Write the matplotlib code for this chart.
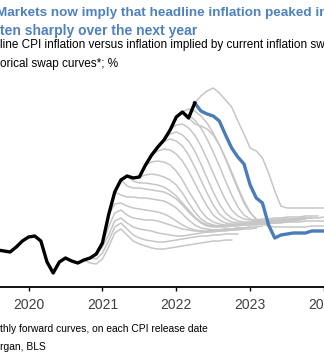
import numpy as np
import matplotlib
matplotlib.use("Agg")
import matplotlib.pyplot as plt

plt.rcParams['font.family'] = ['Liberation Sans', 'DejaVu Sans']

# Headline CPI, % y/y, monthly from Aug 2019 to Apr 2022
cpi = [1.25, 1.2, 1.15, 1.4, 1.7, 1.9, 1.95, 1.7, 0.65, 0.1, 0.65, 0.85,
       0.7, 0.6, 0.75, 0.85, 1.05, 1.6, 3.0, 4.15, 4.75, 4.95, 4.85, 4.9,
       5.5, 6.0, 6.4, 6.75, 7.25, 7.9, 8.15, 7.85, 8.6]
first_month = 2019 + 7 / 12

# historical swap curves: month index (from Aug 2019) of each release
swap_start = [14, 15, 16, 17, 18, 19, 20, 21, 23, 24, 25, 26, 27, 28, 29,
              30, 31, 32]
swap_curves = [
    [0.75, 0.6, 0.55, 0.8, 1.4, 2.1, 2.3, 2.0, 1.7, 1.55, 1.45, 1.35, 1.3,
     1.3, 1.35, 1.4, 1.45, 1.5, 1.55, 1.6, 1.65, 1.7, 1.7, 1.75, 1.75],
    [0.85, 0.8, 1.1, 1.7, 2.4, 2.6, 2.3, 2.0, 1.85, 1.75, 1.7, 1.65, 1.65,
     1.7, 1.75, 1.8, 1.85, 1.9, 1.95, 1.95, 2.0, 2.0, 2.05, 2.05, 2.05],
    [1.05, 1.4, 2.0, 2.7, 2.85, 2.6, 2.4, 2.3, 2.25, 2.2, 2.1, 2.05, 2.0,
     1.95, 1.95, 2.0, 2.05, 2.1, 2.15, 2.2, 2.2, 2.25, 2.25, 2.3, 2.3],
    [1.6, 2.4, 3.1, 3.25, 3.0, 2.85, 2.8, 2.75, 2.75, 2.7, 2.6, 2.5, 2.4,
     2.3, 2.25, 2.2, 2.2, 2.2, 2.25, 2.25, 2.3, 2.3, 2.35, 2.35, 2.4],
    [3.0, 3.55, 3.6, 3.45, 3.35, 3.3, 3.25, 3.2, 3.15, 3.05, 2.9, 2.7, 2.5,
     2.35, 2.25, 2.2, 2.15, 2.15, 2.2, 2.2, 2.25, 2.25, 2.3, 2.3, 2.35],
    [4.15, 4.0, 3.9, 3.9, 3.85, 3.85, 3.8, 3.75, 3.7, 3.55, 3.35, 3.05, 2.75,
     2.5, 2.35, 2.3, 2.25, 2.25, 2.3, 2.3, 2.35, 2.35, 2.4, 2.4, 2.45],
    [4.75, 4.45, 4.35, 4.35, 4.3, 4.25, 4.2, 4.15, 4.0, 3.8, 3.5, 3.15, 2.85,
     2.6, 2.45, 2.4, 2.4, 2.4, 2.45, 2.45, 2.5, 2.5, 2.5, 2.55, 2.55],
    [4.95, 4.7, 4.6, 4.6, 4.55, 4.5, 4.4, 4.2, 3.95, 3.6, 3.25, 2.9, 2.65,
     2.5, 2.45, 2.45, 2.45, 2.5, 2.5, 2.5, 2.55, 2.55, 2.6, 2.6, 2.6],
    [4.9, 5.0, 5.05, 5.0, 4.9, 4.75, 4.5, 4.1, 3.6, 3.15, 2.8, 2.6, 2.5,
     2.45, 2.45, 2.5, 2.5, 2.5, 2.55, 2.55, 2.6, 2.6, 2.6, 2.65, 2.65],
    [5.5, 5.65, 5.7, 5.65, 5.5, 5.2, 4.75, 4.2, 3.7, 3.2, 2.85, 2.65, 2.55,
     2.5, 2.5, 2.5, 2.55, 2.55, 2.6, 2.6, 2.6, 2.65, 2.65, 2.65, 2.7],
    [6.0, 6.2, 6.3, 6.25, 6.05, 5.7, 5.2, 4.6, 4.0, 3.45, 3.0, 2.75, 2.6,
     2.55, 2.55, 2.55, 2.6, 2.6, 2.6, 2.65, 2.65, 2.7, 2.7, 2.7, 2.75],
    [6.4, 6.7, 6.8, 6.7, 6.45, 6.0, 5.4, 4.75, 4.1, 3.5, 3.05, 2.8, 2.65,
     2.6, 2.6, 2.6, 2.65, 2.65, 2.7, 2.7, 2.7, 2.75, 2.75, 2.75, 2.8],
    [6.75, 7.05, 7.15, 7.0, 6.7, 6.2, 5.55, 4.85, 4.15, 3.55, 3.1, 2.85, 2.7,
     2.65, 2.65, 2.7, 2.7, 2.75, 2.75, 2.8, 2.8, 2.8, 2.85, 2.85, 2.85],
    [7.25, 7.5, 7.55, 7.35, 7.0, 6.45, 5.8, 5.1, 4.4, 3.75, 3.25, 2.95, 2.8,
     2.75, 2.75, 2.8, 2.8, 2.85, 2.85, 2.9, 2.9, 2.9, 2.95, 2.95, 2.95],
    [7.9, 8.1, 8.0, 7.75, 7.35, 6.8, 6.15, 5.45, 4.7, 4.0, 3.4, 3.0, 2.8,
     2.7, 2.7, 2.7, 2.75, 2.75, 2.8, 2.8, 2.8, 2.85, 2.85, 2.85, 2.9],
    [8.15, 8.3, 8.2, 7.95, 7.6, 7.1, 6.5, 5.8, 5.05, 4.3, 3.6, 3.1, 2.8,
     2.65, 2.6, 2.6, 2.6, 2.65, 2.65, 2.65, 2.7, 2.7, 2.7, 2.7, 2.75],
    [7.85, 7.55, 7.45, 7.3, 7.0, 6.5, 5.85, 5.15, 4.4, 3.7, 3.15, 2.75, 2.55,
     2.45, 2.4, 2.4, 2.4, 2.4, 2.4, 2.4, 2.45, 2.45, 2.45, 2.45, 2.5],
    [8.6, 8.95, 9.2, 9.35, 9.1, 8.75, 8.4, 7.7, 7.05, 6.35, 6.2, 5.85, 5.1,
     4.2, 3.45, 3.35, 3.35, 3.35, 3.35, 3.35, 3.35, 3.35],
]

# curve implied by current swap pricing
current_start = 32
current_curve = [8.6, 8.2, 8.05, 7.95, 7.7, 7.0, 6.35, 5.9, 5.55, 4.5, 3.85,
                 3.6, 2.5, 1.85, 2.0, 2.05, 2.1, 2.1, 2.1, 2.2, 2.2, 2.2, 2.25]

years = [2020, 2021, 2022, 2023, 2024]
year_labels = ['2020', '2021', '2022', '2023', '2024']


def months(start, n):
    return first_month + (start + np.arange(n)) / 12


W, H = 324, 354
fig = plt.figure(figsize=(W / 100, H / 100), dpi=100)
ax = fig.add_axes([0, (H - 287) / H, 1, (287 - 60) / H])

for s, c in zip(swap_start, swap_curves):
    ax.plot(months(s, len(c)), c, color='#c6c6c6', lw=1.1, zorder=1)
ax.plot(months(0, len(cpi)), cpi, color='black', lw=2.4, zorder=3,
        solid_joinstyle='round')
ax.plot(months(current_start, len(current_curve)), current_curve,
        color='#4a7cb8', lw=2.4, zorder=2, solid_joinstyle='round')

ax.set_xlim(2020 - 29 / 75, 2020 + 295 / 75)
ax.set_ylim(-0.6, 10.75)
for side in ['left', 'right', 'top']:
    ax.spines[side].set_visible(False)
ax.spines['bottom'].set_linewidth(1.3)
ax.set_yticks([])
ax.set_xticks(years)
ax.set_xticklabels(year_labels)
ax.tick_params(axis='x', direction='out', length=3, width=1, pad=5,
               labelsize=10, labelcolor='#404040')
ax.patch.set_visible(False)


def px(x, y):
    return x / W, 1 - y / H


title_col = '#4f81bd'
fig.text(*px(-4, 13), 'Markets now imply that headline inflation peaked in June',
         color=title_col, fontsize=9.7, fontweight='bold', va='center')
fig.text(*px(0, 31), 'ten sharply over the next year',
         color=title_col, fontsize=10, fontweight='bold', va='center')
fig.text(*px(0, 45), 'line CPI inflation versus inflation implied by current inflation swap',
         fontsize=8.5, va='center')
fig.text(*px(0, 64), 'orical swap curves*; %', fontsize=8.5, va='center')
fig.text(*px(0, 329), 'thly forward curves, on each CPI release date',
         fontsize=7.4, va='center')
fig.text(*px(0, 347), 'rgan, BLS', fontsize=7.4, va='center')

fig.savefig('out.png', dpi=100)
